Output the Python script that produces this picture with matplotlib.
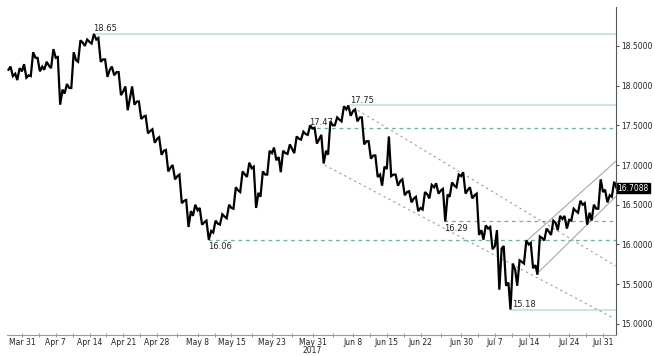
import matplotlib.pyplot as plt
import numpy as np
import pandas as pd

# daily bars, 29 Mar 2017 - 1 Aug 2017 (business days)
dates = pd.bdate_range("2017-03-29", "2017-08-01")
first_open = 18.20
closes = [18.15, 18.18, 18.13, 18.35, 18.24, 18.25, 18.35, 17.95, 17.97, 18.32,
          18.54, 18.55, 18.58, 18.33, 18.20, 18.17, 17.93, 17.85, 17.80, 17.61,
          17.43, 17.33, 17.18, 16.97, 16.86, 16.55, 16.42, 16.43, 16.28, 16.17,
          16.26, 16.35, 16.46, 16.68, 16.88, 16.96, 16.65, 16.88, 17.15, 17.10,
          17.15, 17.20, 17.33, 17.39, 17.46, 17.33, 17.18, 17.50, 17.57, 17.70,
          17.68, 17.60, 17.30, 17.12, 16.88, 16.95, 16.88, 16.80, 16.66, 16.58,
          16.46, 16.63, 16.72, 16.68, 16.63, 16.74, 16.86, 16.69, 16.62, 16.18,
          16.20, 15.98, 15.95, 15.52, 15.68, 15.78, 16.00, 15.74, 16.08, 16.16,
          16.27, 16.32, 16.31, 16.42, 16.50, 16.40, 16.45, 16.66, 16.62, 16.71]
highs = [18.24, 18.22, 18.27, 18.42, 18.35, 18.30, 18.46, 18.36, 18.02, 18.42,
         18.57, 18.58, 18.65, 18.60, 18.33, 18.24, 18.17, 17.99, 17.99, 17.80,
         17.62, 17.45, 17.35, 17.19, 17.00, 16.88, 16.56, 16.50, 16.46, 16.30,
         16.30, 16.38, 16.50, 16.72, 16.92, 17.03, 16.98, 16.92, 17.18, 17.22,
         17.18, 17.26, 17.36, 17.42, 17.50, 17.47, 17.38, 17.55, 17.60, 17.74,
         17.75, 17.70, 17.60, 17.30, 17.12, 16.98, 17.36, 16.88, 16.82, 16.67,
         16.60, 16.66, 16.75, 16.77, 16.70, 16.78, 16.88, 16.91, 16.72, 16.64,
         16.24, 16.22, 16.18, 15.98, 15.76, 15.80, 16.05, 16.02, 16.10, 16.20,
         16.30, 16.36, 16.36, 16.45, 16.55, 16.52, 16.50, 16.82, 16.69, 16.79]
lows = [18.12, 18.07, 18.10, 18.12, 18.18, 18.20, 18.22, 17.76, 17.90, 17.97,
        18.30, 18.50, 18.53, 18.30, 18.11, 18.13, 17.88, 17.69, 17.76, 17.58,
        17.40, 17.28, 17.13, 16.92, 16.82, 16.52, 16.22, 16.36, 16.25, 16.06,
        16.15, 16.25, 16.33, 16.45, 16.66, 16.85, 16.46, 16.60, 16.88, 17.06,
        16.91, 17.14, 17.15, 17.32, 17.38, 17.27, 17.02, 17.13, 17.50, 17.55,
        17.62, 17.55, 17.26, 17.08, 16.85, 16.74, 16.86, 16.74, 16.62, 16.53,
        16.42, 16.44, 16.58, 16.64, 16.29, 16.60, 16.72, 16.64, 16.58, 16.12,
        16.06, 15.94, 15.43, 15.48, 15.18, 15.48, 15.76, 15.70, 15.62, 16.05,
        16.12, 16.18, 16.20, 16.30, 16.40, 16.25, 16.30, 16.45, 16.53, 16.60]
last_price = 16.7088

# key levels: (date, value, style, label placement)
levels = [("2017-04-14", 18.65, "solid", "above"),
          ("2017-06-07", 17.75, "solid", "above"),
          ("2017-05-30", 17.47, "dashed", "above"),
          ("2017-05-09", 16.06, "dashed", "below"),
          ("2017-06-27", 16.29, "dashed", "below"),
          ("2017-07-11", 15.18, "solid", "above")]

# trend lines: (start date, frac, value, end date, frac, value)
down_channel = [("2017-06-08", 0.7, 17.69, "2017-08-01", 0.85, 15.73),
                ("2017-06-01", 0.8, 17.00, "2017-08-01", 0.6, 15.07)]
up_channel = [("2017-07-13", 0.5, 16.03, "2017-08-01", 0.92, 17.05),
              ("2017-07-17", 0.2, 15.63, "2017-08-01", 0.85, 16.60)]

tick_dates = ["2017-03-31", "2017-04-07", "2017-04-14", "2017-04-21", "2017-04-28",
              "2017-05-08", "2017-05-15", "2017-05-23", "2017-05-31", "2017-06-08",
              "2017-06-15", "2017-06-22", "2017-06-30", "2017-07-07", "2017-07-14",
              "2017-07-24", "2017-07-31"]
tick_labels = ["Mar 31", "Apr 7", "Apr 14", "Apr 21", "Apr 28", "May 8", "May 15",
               "May 23", "May 31\n2017", "Jun 8", "Jun 15", "Jun 22", "Jun 30",
               "Jul 7", "Jul 14", "Jul 24", "Jul 31"]


def pos(d, frac=0.0):
    return dates.get_loc(pd.Timestamp(d)) + frac


fig = plt.figure(figsize=(6.55, 3.56), dpi=100)
ax = fig.add_axes([7/655, 21/356, 609/655, 328/356])

# price path: open -> low/high -> high/low -> close for each day
xs, ys = [], []
opens = [first_open] + closes[:-1]
for k, (o, h, l, c) in enumerate(zip(opens, highs, lows, closes)):
    mid = [l, h] if c >= o else [h, l]
    xs += [k, k + 0.3, k + 0.65, k + 1]
    ys += [o] + mid + [c]
ax.plot(xs, ys, color="black", lw=1.6, solid_joinstyle="miter", zorder=5)

xmax = len(dates) - 0.08
for d, v, style, place in levels:
    x0 = pos(d, 0.5)
    if style == "solid":
        ax.plot([x0, xmax], [v, v], color="#b8e2d6", lw=1.1, zorder=2)
    else:
        ax.plot([x0, xmax], [v, v], color="#5dbb9b", lw=0.9, dashes=(3, 3), zorder=2)
    va = "bottom" if place == "above" else "top"
    dy = 0.01 if place == "above" else -0.03
    ax.text(x0, v + dy, "%.2f" % v, fontsize=6, color="#222222", ha="left", va=va, zorder=6)

for d0, f0, v0, d1, f1, v1 in down_channel:
    ax.plot([pos(d0, f0), pos(d1, f1)], [v0, v1], color="#9a9a9a", lw=0.8,
            dashes=(2, 3), zorder=3)
for d0, f0, v0, d1, f1, v1 in up_channel:
    ax.plot([pos(d0, f0), pos(d1, f1)], [v0, v1], color="#a8a8a8", lw=0.8, zorder=3)

ax.set_xlim(-0.22, xmax)
ax.set_ylim(14.86, 18.99)

ax.spines["left"].set_visible(False)
ax.spines["top"].set_visible(False)
ax.spines["right"].set_color("#555555")
ax.spines["bottom"].set_color("#999999")
ax.spines["right"].set_linewidth(0.8)
ax.spines["bottom"].set_linewidth(0.8)

ax.yaxis.tick_right()
ax.set_yticks(np.arange(15.0, 18.51, 0.5))
ax.set_yticklabels(["%.4f" % t for t in np.arange(15.0, 18.51, 0.5)])
ax.tick_params(axis="y", length=2.5, width=0.8, pad=1, labelsize=5.5,
               colors="#555555", labelcolor="#222222")

tpos = [pos(d) for d in tick_dates]
ax.set_xticks(tpos)
ax.set_xticklabels(tick_labels)
ax.set_xticks([(a + b) / 2 for a, b in zip(tpos[:-1], tpos[1:])], minor=True)
ax.tick_params(axis="x", which="both", direction="inout", length=3, width=0.6,
               colors="#888888", labelsize=5.5, labelcolor="#222222", pad=0.5)
for lab in ax.get_xticklabels():
    lab.set_linespacing(0.85)

ax.text(xmax + 0.25, last_price, "%.4f" % last_price, fontsize=5.5, color="white",
        ha="left", va="center", clip_on=False, zorder=7,
        bbox=dict(boxstyle="square,pad=0.1", fc="black", ec="black"))

plt.savefig("out.png", dpi=100)
